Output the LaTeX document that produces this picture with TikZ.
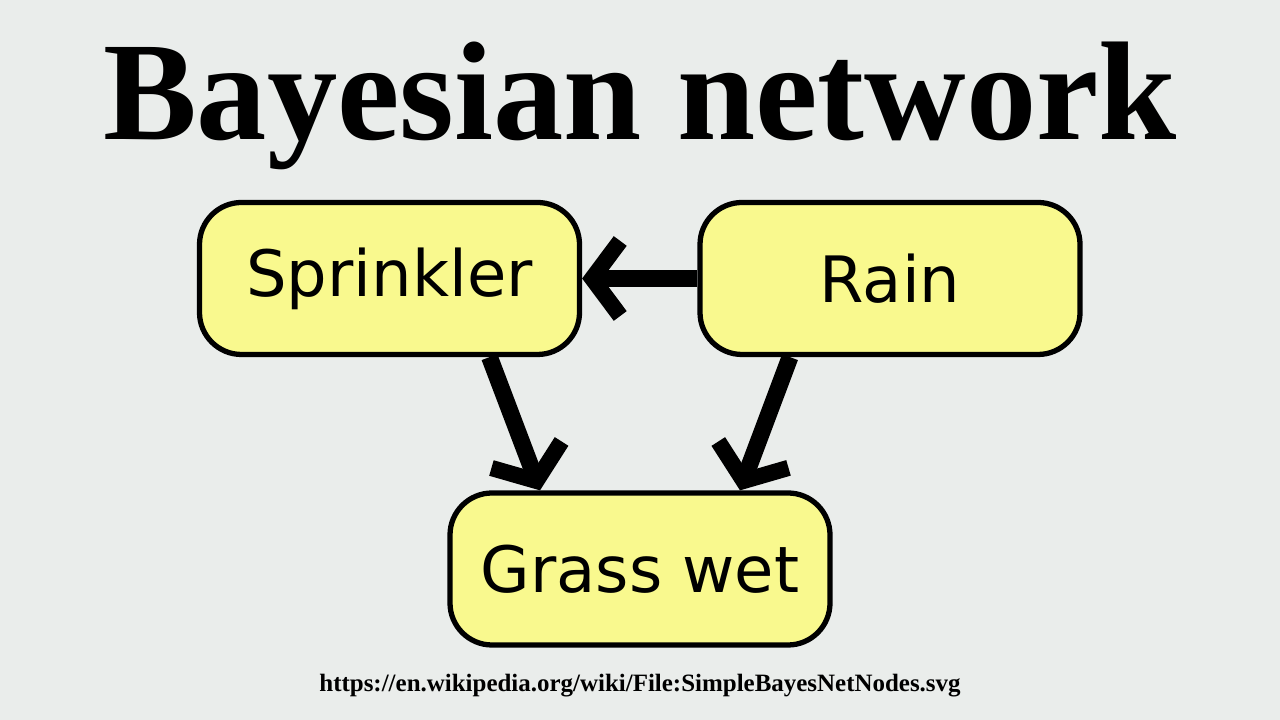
\documentclass[tikz,border=0pt]{standalone}
\usepackage{fontspec}
\setmainfont{Liberation Serif}
\newfontfamily\nodefont{DejaVu Sans}
\usetikzlibrary{arrows.meta}
\definecolor{bgcol}{HTML}{EAEDEB}
\definecolor{boxcol}{HTML}{F9F98E}

\begin{document}
\begin{tikzpicture}[
	varbox/.style={draw, line width=1.5pt, fill=boxcol, rounded corners=0.42cm,
		minimum width=3.8cm, minimum height=1.52cm, inner sep=0pt,
		font=\nodefont\fontsize{18.2}{20}\selectfont},
	dep/.style={line width=4.8pt, -{Straight Barb[length=0.28cm, width=0.75cm, line width=4.6pt]}}]

	\fill[bgcol] (0,0) rectangle (12.8,7.2);
	\useasboundingbox (0,0) rectangle (12.8,7.2);

	\node[anchor=base, font=\bfseries\fontsize{40}{44}\selectfont] (title) at (6.4,5.8) {Bayesian network};

	\node[varbox] (sprinkler) at (3.895,4.415) {Sprinkler};
	\node[varbox] (rain) at (8.9,4.415) {Rain};
	\node[varbox] (grass) at (6.4,1.51) {Grass wet};

	\draw[dep] (rain.west) -- (sprinkler.east);
	\draw[dep] ([xshift=1cm]sprinkler.south) -- ([xshift=-1cm]grass.north);
	\draw[dep] ([xshift=-1cm]rain.south) -- ([xshift=1cm]grass.north);

	\node[anchor=base, font=\bfseries\fontsize{7.1}{9}\selectfont] (source) at (6.4,0.28) {https://en.wikipedia.org/wiki/File:SimpleBayesNetNodes.svg};

\end{tikzpicture}
\end{document}
